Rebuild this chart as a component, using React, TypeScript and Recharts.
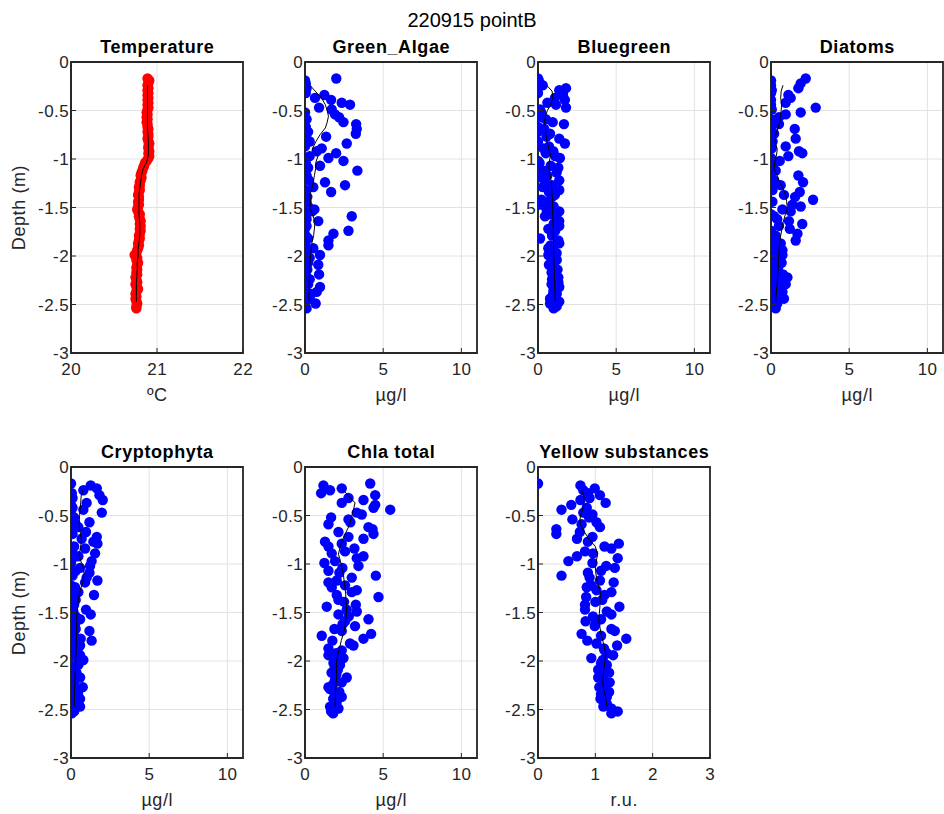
import React from 'react';
import { ScatterChart, Scatter, XAxis, YAxis, CartesianGrid, ReferenceArea } from 'recharts';

// ---------------- data ----------------
const depth = [
  -0.17, -0.19, -0.22, -0.24, -0.27, -0.29, -0.32, -0.34, -0.37, -0.39,
  -0.42, -0.44, -0.47, -0.49, -0.52, -0.54, -0.57, -0.59, -0.62, -0.64,
  -0.67, -0.69, -0.72, -0.74, -0.77, -0.79, -0.82, -0.84, -0.87, -0.89,
  -0.92, -0.94, -0.97, -0.99, -1.02, -1.04, -1.07, -1.09, -1.12, -1.14,
  -1.17, -1.19, -1.22, -1.24, -1.27, -1.29, -1.32, -1.34, -1.37, -1.39,
  -1.42, -1.44, -1.47, -1.49, -1.52, -1.54, -1.57, -1.59, -1.62, -1.64,
  -1.67, -1.69, -1.72, -1.74, -1.77, -1.79, -1.82, -1.84, -1.87, -1.89,
  -1.92, -1.94, -1.97, -1.99, -2.02, -2.04, -2.07, -2.09, -2.12, -2.14,
  -2.17, -2.19, -2.22, -2.24, -2.27, -2.29, -2.32, -2.34, -2.37, -2.39,
  -2.42, -2.44, -2.47, -2.49, -2.52, -2.54,
];

const temperature = [
  20.89, 20.91, 20.90, 20.89, 20.90, 20.89, 20.90, 20.89, 20.90, 20.89,
  20.90, 20.89, 20.90, 20.89, 20.88, 20.89, 20.88, 20.89, 20.88, 20.89,
  20.89, 20.90, 20.89, 20.90, 20.90, 20.89, 20.90, 20.91, 20.90, 20.90,
  20.91, 20.90, 20.91, 20.90, 20.88, 20.86, 20.85, 20.84, 20.83, 20.82,
  20.81, 20.82, 20.81, 20.80, 20.80, 20.79, 20.80, 20.79, 20.78, 20.79,
  20.79, 20.78, 20.79, 20.78, 20.77, 20.78, 20.80, 20.79, 20.80, 20.81,
  20.80, 20.81, 20.80, 20.81, 20.80, 20.79, 20.80, 20.79, 20.78, 20.79,
  20.78, 20.77, 20.76, 20.74, 20.77, 20.76, 20.78, 20.77, 20.76, 20.77,
  20.76, 20.77, 20.75, 20.76, 20.77, 20.75, 20.76, 20.78, 20.76, 20.75,
  20.76, 20.75, 20.76, 20.77, 20.76, 20.76,
];

const greenAlgae = [
  2.0, 0.0, 0.05, 0.0, 0.1, 0.02, 0.05, 1.24, 0.64, 1.67,
  2.35, 2.88, 0.9, 1.71, 0.0, 1.92, 2.18, 0.1, 2.46, 3.27,
  0.05, 3.31, 0.2, 3.25, 1.35, 0.1, 0.3, 2.67, 0.0, 1.07,
  0.75, 1.99, 0.3, 1.5, 2.46, 0.05, 0.96, 0.2, 3.35, 0.0,
  0.1, 0.0, 0.25, 1.28, 2.56, 0.53, 0.05, 1.67, 0.0, 0.15,
  0.0, 0.1, 0.05, 0.2, 0.6, 0.45, 0.0, 2.99, 0.1, 0.85,
  0.0, 0.1, 0.0, 2.78, 1.82, 0.05, 0.2, 1.5, 0.0, 1.5,
  0.53, 0.1, 0.0, 0.96, 0.3, 0.05, 0.2, 0.85, 0.0, 0.15,
  0.0, 0.9, 0.1, 0.3, 0.05, 0.2, 0.96, 0.0, 0.75, 0.4,
  0.1, 0.3, 0.0, 0.68, 0.0, 0.1,
];

const bluegreen = [
  0.0, 0.05, 0.0, 0.3, 1.79, 1.36, 0.0, 1.6, 1.08, 1.72,
  0.6, 1.15, 1.79, 0.13, 0.2, 0.0, 0.23, 0.5, 0.94, 1.66,
  0.0, 0.4, 0.0, 0.77, 0.55, 1.36, 0.0, 1.72, 0.7, 0.34,
  0.98, 0.5, 1.1, 1.4, 0.0, 0.1, 0.81, 1.3, 0.34, 1.19,
  0.6, 0.2, 1.36, 0.45, 0.9, 0.3, 1.36, 0.7, 1.08, 0.9,
  0.23, 0.66, 0.13, 1.0, 0.55, 1.36, 0.8, 0.45, 1.2, 1.36,
  1.0, 1.36, 0.66, 1.1, 0.9, 0.9, 0.13, 1.3, 1.36, 0.8,
  0.66, 1.0, 1.19, 0.66, 0.85, 1.2, 0.98, 0.7, 1.09, 1.25,
  0.87, 1.1, 1.3, 0.9, 1.3, 0.87, 1.36, 1.0, 0.98, 1.2,
  0.9, 0.77, 1.36, 0.77, 1.19, 1.0,
];

const diatoms = [
  2.22, 0.0, 1.9, 0.0, 1.75, 0.05, 0.0, 1.11, 1.26, 0.0,
  0.94, 0.0, 2.86, 0.05, 1.9, 0.94, 0.51, 0.0, 0.1, 0.51,
  0.0, 1.52, 0.05, 0.2, 0.0, 1.58, 0.1, 0.0, 0.94, 0.05,
  1.79, 2.0, 1.11, 0.0, 0.56, 0.2, 0.0, 0.1, 0.3, 0.05,
  1.75, 0.0, 0.2, 2.05, 0.62, 0.0, 0.1, 1.84, 0.83, 1.54,
  2.69, 0.09, 1.37, 1.9, 0.73, 1.26, 0.0, 0.2, 0.4, 1.15,
  2.0, 0.51, 1.2, 0.0, 1.69, 0.3, 0.1, 1.58, 0.62, 0.2,
  0.1, 0.73, 0.3, 0.73, 0.05, 0.4, 0.68, 0.2, 0.45, 0.1,
  0.3, 0.77, 1.05, 0.2, 0.5, 0.94, 0.1, 0.6, 0.73, 0.3,
  0.2, 0.83, 0.0, 0.4, 0.15, 0.3,
];

const cryptophyta = [
  0.0, 1.26, 1.65, 0.79, 0.05, 1.82, 0.1, 2.03, 1.0, 0.0,
  0.1, 0.79, 1.97, 0.0, 0.2, 0.05, 1.18, 0.3, 0.47, 0.0,
  0.96, 0.1, 1.65, 0.68, 1.43, 1.69, 0.2, 0.9, 0.05, 1.54,
  0.47, 0.1, 1.32, 0.0, 1.22, 0.58, 0.3, 1.18, 0.1, 1.0,
  1.69, 0.9, 0.0, 0.26, 0.2, 0.47, 1.47, 0.1, 0.3, 0.0,
  0.2, 0.05, 0.96, 0.15, 1.26, 0.3, 0.58, 0.0, 0.25, 0.1,
  0.3, 1.18, 0.0, 0.2, 0.62, 1.32, 0.1, 0.58, 0.0, 0.4,
  0.2, 0.58, 0.05, 0.79, 0.3, 0.47, 0.1, 0.2, 0.35, 0.0,
  0.58, 0.1, 0.2, 0.0, 0.75, 0.3, 0.15, 0.45, 0.2, 0.58,
  0.1, 0.3, 0.58, 0.0, 0.2, 0.05,
];

const chlaTotal = [
  4.17, 1.18, 2.35, 1.6, 1.03, 4.49, 2.78, 3.74, 2.35, 4.49,
  4.38, 5.45, 3.31, 3.63, 1.67, 2.78, 2.9, 1.5, 4.06, 4.32,
  2.14, 4.38, 2.78, 3.74, 1.28, 2.35, 1.5, 3.16, 2.56, 1.71,
  3.74, 3.31, 1.92, 1.24, 3.42, 2.39, 1.5, 2.2, 4.53, 2.99,
  2.03, 1.5, 2.56, 1.71, 3.31, 2.99, 2.03, 4.7, 2.14, 2.5,
  3.25, 1.39, 2.67, 3.31, 2.14, 2.8, 4.06, 2.56, 2.4, 3.2,
  1.88, 2.35, 4.23, 1.07, 3.74, 1.75, 2.88, 3.1, 1.5, 2.35,
  2.0, 1.5, 2.46, 2.1, 1.82, 2.24, 1.9, 2.1, 1.7, 2.0,
  2.67, 1.92, 2.35, 1.8, 1.5, 1.6, 2.2, 1.9, 2.35, 1.8,
  2.03, 1.9, 1.6, 2.14, 1.67, 1.8,
];

const yellowSubstances = [
  0.0, 0.74, 0.99, 0.79, 0.87, 1.08, 0.9, 0.74, 1.18, 0.58,
  0.85, 0.41, 0.79, 0.95, 0.89, 0.6, 1.02, 0.76, 1.08, 0.32,
  0.73, 0.32, 0.95, 0.68, 0.87, 1.41, 1.16, 1.28, 0.82, 0.96,
  0.68, 1.39, 0.53, 0.95, 1.19, 1.34, 1.1, 0.87, 0.41, 0.9,
  1.08, 1.32, 0.93, 0.85, 1.02, 1.28, 1.16, 0.84, 1.12, 1.0,
  0.82, 1.42, 0.82, 1.2, 1.28, 0.96, 1.1, 0.83, 1.0, 0.99,
  1.28, 1.34, 0.76, 1.1, 1.54, 0.86, 1.02, 1.38, 1.15, 1.16,
  1.2, 1.31, 0.93, 1.13, 1.1, 1.2, 1.13, 1.05, 1.24, 1.15,
  1.05, 1.12, 1.25, 1.15, 1.07, 1.18, 1.24, 1.1, 1.2, 1.09,
  1.15, 1.2, 1.14, 1.28, 1.39, 1.28,
];

// smoothed profiles (black lines)
const profileDepth = [
  -0.24, -0.30, -0.37, -0.44, -0.50, -0.56, -0.62, -0.68, -0.75, -0.82,
  -0.90, -0.96, -1.03, -1.10, -1.17, -1.24, -1.30, -1.37, -1.44, -1.51,
  -1.58, -1.65, -1.72, -1.79, -1.86, -1.93, -2.00, -2.07, -2.14, -2.21,
  -2.28, -2.35, -2.42, -2.47,
];
const temperatureProfile = [
  20.89, 20.89, 20.89, 20.89, 20.89, 20.89, 20.89, 20.89, 20.895, 20.90,
  20.90, 20.90, 20.88, 20.84, 20.82, 20.81, 20.80, 20.79, 20.79, 20.79,
  20.79, 20.80, 20.80, 20.80, 20.79, 20.78, 20.78, 20.77, 20.77, 20.765,
  20.76, 20.76, 20.76, 20.76,
];
const greenAlgaeProfile = [
  0.32, 0.65, 1.05, 1.3, 1.42, 1.5, 1.42, 1.3, 0.96, 0.7,
  0.45, 0.85, 0.7, 0.68, 0.6, 0.53, 0.45, 0.32, 0.35, 0.32,
  0.5, 0.64, 0.6, 0.55, 0.45, 0.4, 0.35, 0.32, 0.3, 0.28,
  0.26, 0.27, 0.25, 0.26,
];
const bluegreenProfile = [
  0.55, 0.9, 0.95, 0.8, 0.6, 0.48, 0.42, 0.48, 0.5, 0.58,
  0.7, 0.8, 0.72, 0.7, 0.78, 0.85, 0.87, 0.9, 0.93, 0.94,
  0.94, 0.96, 0.97, 0.98, 0.99, 1.0, 1.01, 1.02, 1.04, 1.05,
  1.07, 1.08, 1.09, 1.09,
];
const diatomsProfile = [
  0.77, 0.65, 0.62, 0.68, 0.65, 0.6, 0.56, 0.45, 0.3, 0.26,
  0.4, 0.35, 0.25, 0.19, 0.4, 0.56, 0.75, 0.94, 1.0, 1.05,
  0.9, 0.78, 0.7, 0.62, 0.56, 0.52, 0.5, 0.47, 0.45, 0.42,
  0.4, 0.36, 0.32, 0.3,
];
const cryptophytaProfile = [
  0.75, 0.65, 0.62, 0.58, 0.55, 0.53, 0.53, 0.6, 0.66, 0.62,
  0.53, 0.6, 0.78, 0.83, 0.78, 0.65, 0.55, 0.47, 0.42, 0.37,
  0.36, 0.36, 0.36, 0.34, 0.33, 0.32, 0.3, 0.28, 0.26, 0.25,
  0.23, 0.22, 0.21, 0.21,
];
const chlaTotalProfile = [
  2.46, 2.8, 3.2, 3.1, 3.0, 2.9, 2.78, 2.6, 2.4, 2.25,
  2.14, 2.25, 2.35, 2.45, 2.5, 2.56, 2.6, 2.62, 2.67, 2.65,
  2.6, 2.56, 2.45, 2.32, 2.22, 2.1, 2.03, 2.0, 2.03, 2.0,
  1.97, 1.95, 1.93, 1.92,
];
const yellowSubstancesProfile = [
  0.76, 0.8, 0.8, 0.78, 0.74, 0.73, 0.76, 0.82, 0.9, 1.0,
  1.04, 1.02, 1.0, 1.01, 1.03, 1.06, 1.09, 1.08, 1.08, 1.07,
  1.06, 1.08, 1.1, 1.13, 1.16, 1.18, 1.17, 1.15, 1.14, 1.13,
  1.14, 1.17, 1.19, 1.2,
];

const panelTitles = ['Temperature', 'Green_Algae', 'Bluegreen', 'Diatoms', 'Cryptophyta', 'Chla total', 'Yellow substances'];
const unitLabels = ['\u00BAC', '\u00B5g/l', '\u00B5g/l', '\u00B5g/l', '\u00B5g/l', '\u00B5g/l', 'r.u.'];
const depthTicks = [0, -0.5, -1, -1.5, -2, -2.5, -3];
const tempTicks = [20, 21, 22];
const algaeTicks = [0, 5, 10];
const yellowTicks = [0, 1, 2, 3];
const mainTitle = '220915 pointB';
const depthLabel = 'Depth (m)';

// ---------------- styling / layout ----------------
const AX = '#262626';
const FONT = '"Liberation Sans", Arial, Helvetica, sans-serif';
const TL = 5;
const TICK_FS = 17;
const TICK_LS = 0.4;
const LABEL_FS = 18;
const LABEL_LS = 0.6;
const COLS = [71, 305, 538, 771];
const ROWS = [62, 467];
const PW = 172;
const PH = 291;
const ML = 70;
const MT = 10;
const MR = 12;
const XH = 56;

const BottomTick = (p: any) => (
  <g>
    <line x1={p.x} x2={p.x} y1={p.y} y2={p.y - TL} stroke={AX} strokeWidth={1} />
    <text
      x={p.x + TICK_LS / 2}
      y={p.y + 22}
      textAnchor="middle"
      fontSize={TICK_FS}
      letterSpacing={TICK_LS}
      fill={AX}
      fontFamily={FONT}
    >
      {String(p.payload.value)}
    </text>
  </g>
);
const LeftTick = (p: any) => (
  <g>
    <line x1={p.x} x2={p.x + TL} y1={p.y} y2={p.y} stroke={AX} strokeWidth={1} />
    <text
      x={p.x - 2}
      y={p.y + 6}
      textAnchor="end"
      fontSize={TICK_FS}
      letterSpacing={TICK_LS}
      fill={AX}
      fontFamily={FONT}
    >
      {String(p.payload.value)}
    </text>
  </g>
);
const TopTick = (p: any) => (
  <line x1={p.x} x2={p.x} y1={p.y} y2={p.y + TL} stroke={AX} strokeWidth={1} />
);
const RightTick = (p: any) => (
  <line x1={p.x} x2={p.x - TL} y1={p.y} y2={p.y} stroke={AX} strokeWidth={1} />
);

const Dot = (color: string) => (p: any) => <circle cx={p.cx} cy={p.cy} r={5.2} fill={color} />;
const NoDot = () => <g />;

type PanelProps = {
  left: number;
  top: number;
  values: number[];
  profile: number[];
  domain: [number, number];
  ticks: number[];
  unit: string;
  color: string;
  showDepthLabel: boolean;
};

function Panel({ left, top, values, profile, domain, ticks, unit, color, showDepthLabel }: PanelProps) {
  const pts = depth.map((d, i) => ({ x: values[i], y: d }));
  const line = profileDepth.map((d, i) => ({ x: profile[i], y: d }));
  const axisLine = { stroke: AX, strokeWidth: 1.8 };
  return (
    <div style={{ position: 'absolute', left: left - ML, top: top - MT }}>
      <ScatterChart width={ML + PW + MR} height={MT + PH + XH} margin={{ top: MT, right: MR, bottom: 0, left: 0 }}>
        <CartesianGrid stroke="#e2e2e2" strokeWidth={1} />
        <XAxis
          type="number"
          dataKey="x"
          domain={domain}
          ticks={ticks}
          interval={0}
          height={XH}
          tickSize={0}
          tickMargin={0}
          tickLine={false}
          stroke={AX}
          axisLine={axisLine}
          tick={BottomTick}
          allowDataOverflow
          label={(lp: any) => (
            <text
              x={lp.viewBox.x + lp.viewBox.width / 2 + LABEL_LS / 2}
              y={lp.viewBox.y + 48}
              textAnchor="middle"
              fontSize={LABEL_FS}
              letterSpacing={LABEL_LS}
              fill={AX}
              fontFamily={FONT}
            >
              {unit}
            </text>
          )}
        />
        <XAxis
          xAxisId="top"
          orientation="top"
          type="number"
          dataKey="x"
          domain={domain}
          ticks={ticks}
          interval={0}
          height={0}
          tickSize={0}
          tickMargin={0}
          tickLine={false}
          stroke={AX}
          axisLine={axisLine}
          tick={TopTick}
          allowDataOverflow
        />
        <YAxis
          type="number"
          dataKey="y"
          domain={[-3, 0]}
          ticks={depthTicks}
          interval={0}
          width={ML}
          tickSize={0}
          tickMargin={0}
          tickLine={false}
          stroke={AX}
          axisLine={axisLine}
          tick={LeftTick}
          allowDataOverflow
          label={
            showDepthLabel
              ? (lp: any) => {
                  const cx = lp.viewBox.x + ML - 46;
                  const cy = lp.viewBox.y + lp.viewBox.height / 2;
                  return (
                    <text
                      x={cx}
                      y={cy}
                      transform={`rotate(-90, ${cx}, ${cy})`}
                      textAnchor="middle"
                      fontSize={LABEL_FS}
                      letterSpacing={LABEL_LS}
                      fill={AX}
                      fontFamily={FONT}
                    >
                      {depthLabel}
                    </text>
                  );
                }
              : undefined
          }
        />
        <YAxis
          yAxisId="right"
          orientation="right"
          type="number"
          dataKey="y"
          domain={[-3, 0]}
          ticks={depthTicks}
          interval={0}
          width={0}
          tickSize={0}
          tickMargin={0}
          tickLine={false}
          stroke={AX}
          axisLine={axisLine}
          tick={RightTick}
          allowDataOverflow
        />
        <ReferenceArea
          x1={domain[0]}
          x2={domain[1]}
          y1={-3}
          y2={0}
          fill="none"
          fillOpacity={0}
          stroke={AX}
          strokeWidth={1.8}
          strokeOpacity={1}
          ifOverflow="visible"
        />
        <Scatter data={pts} shape={Dot(color)} isAnimationActive={false} />
        <Scatter data={line} shape={NoDot} line={{ stroke: '#000', strokeWidth: 1 }} isAnimationActive={false} />
      </ScatterChart>
    </div>
  );
}

export default function App() {
  const panels = [
    { values: temperature, profile: temperatureProfile, domain: [20, 22] as [number, number], ticks: tempTicks, color: '#ff0000' },
    { values: greenAlgae, profile: greenAlgaeProfile, domain: [0, 11] as [number, number], ticks: algaeTicks, color: '#0000ff' },
    { values: bluegreen, profile: bluegreenProfile, domain: [0, 11] as [number, number], ticks: algaeTicks, color: '#0000ff' },
    { values: diatoms, profile: diatomsProfile, domain: [0, 11] as [number, number], ticks: algaeTicks, color: '#0000ff' },
    { values: cryptophyta, profile: cryptophytaProfile, domain: [0, 11] as [number, number], ticks: algaeTicks, color: '#0000ff' },
    { values: chlaTotal, profile: chlaTotalProfile, domain: [0, 11] as [number, number], ticks: algaeTicks, color: '#0000ff' },
    { values: yellowSubstances, profile: yellowSubstancesProfile, domain: [0, 3] as [number, number], ticks: yellowTicks, color: '#0000ff' },
  ];
  return (
    <div style={{ position: 'absolute', left: 0, top: 0, width: 944, height: 814, overflow: 'hidden', background: '#fff' }}>
      <svg width={944} height={814} style={{ position: 'absolute', left: 0, top: 0 }}>
        <text x={472} y={27} textAnchor="middle" fontSize={20} fill="#000" fontFamily={FONT}>
          {mainTitle}
        </text>
        {panelTitles.map((t, i) => {
          const col = i % 4;
          const row = Math.floor(i / 4);
          return (
            <text
              key={t}
              x={COLS[col] + PW / 2 + LABEL_LS / 2}
              y={ROWS[row] - 9}
              textAnchor="middle"
              fontSize={LABEL_FS}
              letterSpacing={LABEL_LS}
              fontWeight="bold"
              fill="#000"
              fontFamily={FONT}
            >
              {t}
            </text>
          );
        })}
      </svg>
      {panels.map((p, i) => (
        <Panel
          key={i}
          left={COLS[i % 4]}
          top={ROWS[Math.floor(i / 4)]}
          values={p.values}
          profile={p.profile}
          domain={p.domain}
          ticks={p.ticks}
          unit={unitLabels[i]}
          color={p.color}
          showDepthLabel={i % 4 === 0}
        />
      ))}
    </div>
  );
}
